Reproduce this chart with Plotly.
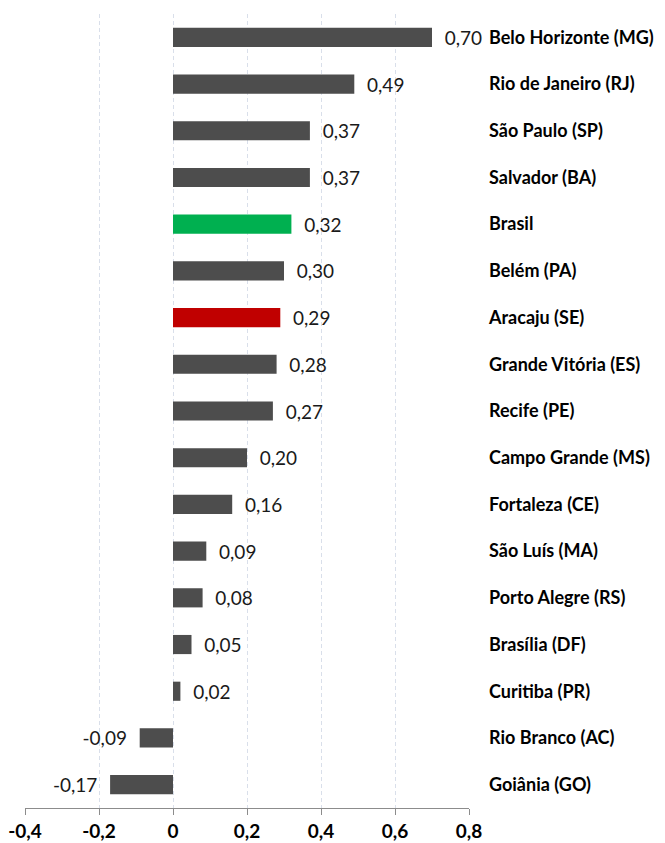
import plotly.graph_objects as go

# Data
cities = ['Belo Horizonte (MG)', 'Rio de Janeiro (RJ)', 'São Paulo (SP)', 'Salvador (BA)',
          'Brasil', 'Belém (PA)', 'Aracaju (SE)', 'Grande Vitória (ES)', 'Recife (PE)',
          'Campo Grande (MS)', 'Fortaleza (CE)', 'São Luís (MA)', 'Porto Alegre (RS)',
          'Brasília (DF)', 'Curitiba (PR)', 'Rio Branco (AC)', 'Goiânia (GO)']
values = [0.70, 0.49, 0.37, 0.37, 0.32, 0.30, 0.29, 0.28, 0.27,
          0.20, 0.16, 0.09, 0.08, 0.05, 0.02, -0.09, -0.17]
x_ticks = [-0.4, -0.2, 0, 0.2, 0.4, 0.6, 0.8]

GREY = '#4d4d4d'
colors = []
for c in cities:
    if c == 'Brasil':
        colors.append('#00b050')
    elif c == 'Aracaju (SE)':
        colors.append('#c00000')
    else:
        colors.append(GREY)

NBSP = '\u00a0'
fig = go.Figure()
fig.add_trace(go.Bar(
    x=values,
    y=cities,
    orientation='h',
    marker=dict(color=colors, line=dict(width=0)),
    texttemplate=NBSP * 2 + '%{x:.2f}' + NBSP * 2,
    textposition='outside',
    constraintext='none',
    cliponaxis=False,
    textfont=dict(family='Lato', size=19, color='#1a1a1a'),
    hoverinfo='skip',
))

# boundaries between categories, used for tick marks on the zero line
boundaries = [i - 0.5 for i in range(len(cities) + 1)]

fig.update_layout(
    width=665,
    height=843,
    margin=dict(l=25, r=196, t=14, b=35),
    plot_bgcolor='white',
    paper_bgcolor='white',
    separators=',.',
    showlegend=False,
    bargap=0.59,
    font=dict(family='Lato', color='black'),
    xaxis=dict(
        range=[-0.4, 0.8],
        tickvals=x_ticks,
        ticktext=[('%.1f' % v).replace('.', ',') if v != 0 else '0' for v in x_ticks],
        tickfont=dict(family='Lato', size=19, color='black', weight='bold'),
        automargin=False,
        showgrid=True,
        gridcolor='#d9dfea',
        griddash='4px,3px',
        gridwidth=1,
        zeroline=False,
        showline=True,
        linecolor='#8c8c8c',
        linewidth=1,
        ticks='outside',
        ticklen=6,
        tickcolor='#8c8c8c',
    ),
    yaxis=dict(
        autorange='reversed',
        side='right',
        automargin=False,
        showgrid=False,
        zeroline=False,
        showline=False,
        ticks='',
        ticklabelstandoff=19,
        tickfont=dict(family='Lato', size=18, color='black', weight='bold'),
    ),
    yaxis2=dict(
        overlaying='y',
        anchor='free',
        position=1 / 3,
        side='left',
        automargin=False,
        range=[len(cities) - 0.5, -0.5],
        tickvals=boundaries,
        showticklabels=False,
        showgrid=False,
        zeroline=False,
        showline=True,
        linecolor='#8c8c8c',
        linewidth=1,
        ticks='outside',
        ticklen=6,
        tickcolor='#8c8c8c',
    ),
)

# remove the default page margin so the figure sits at the window's corner
fig.write_html("out.html", config={'displayModeBar': False},
               post_script="document.body.style.margin='0';")
